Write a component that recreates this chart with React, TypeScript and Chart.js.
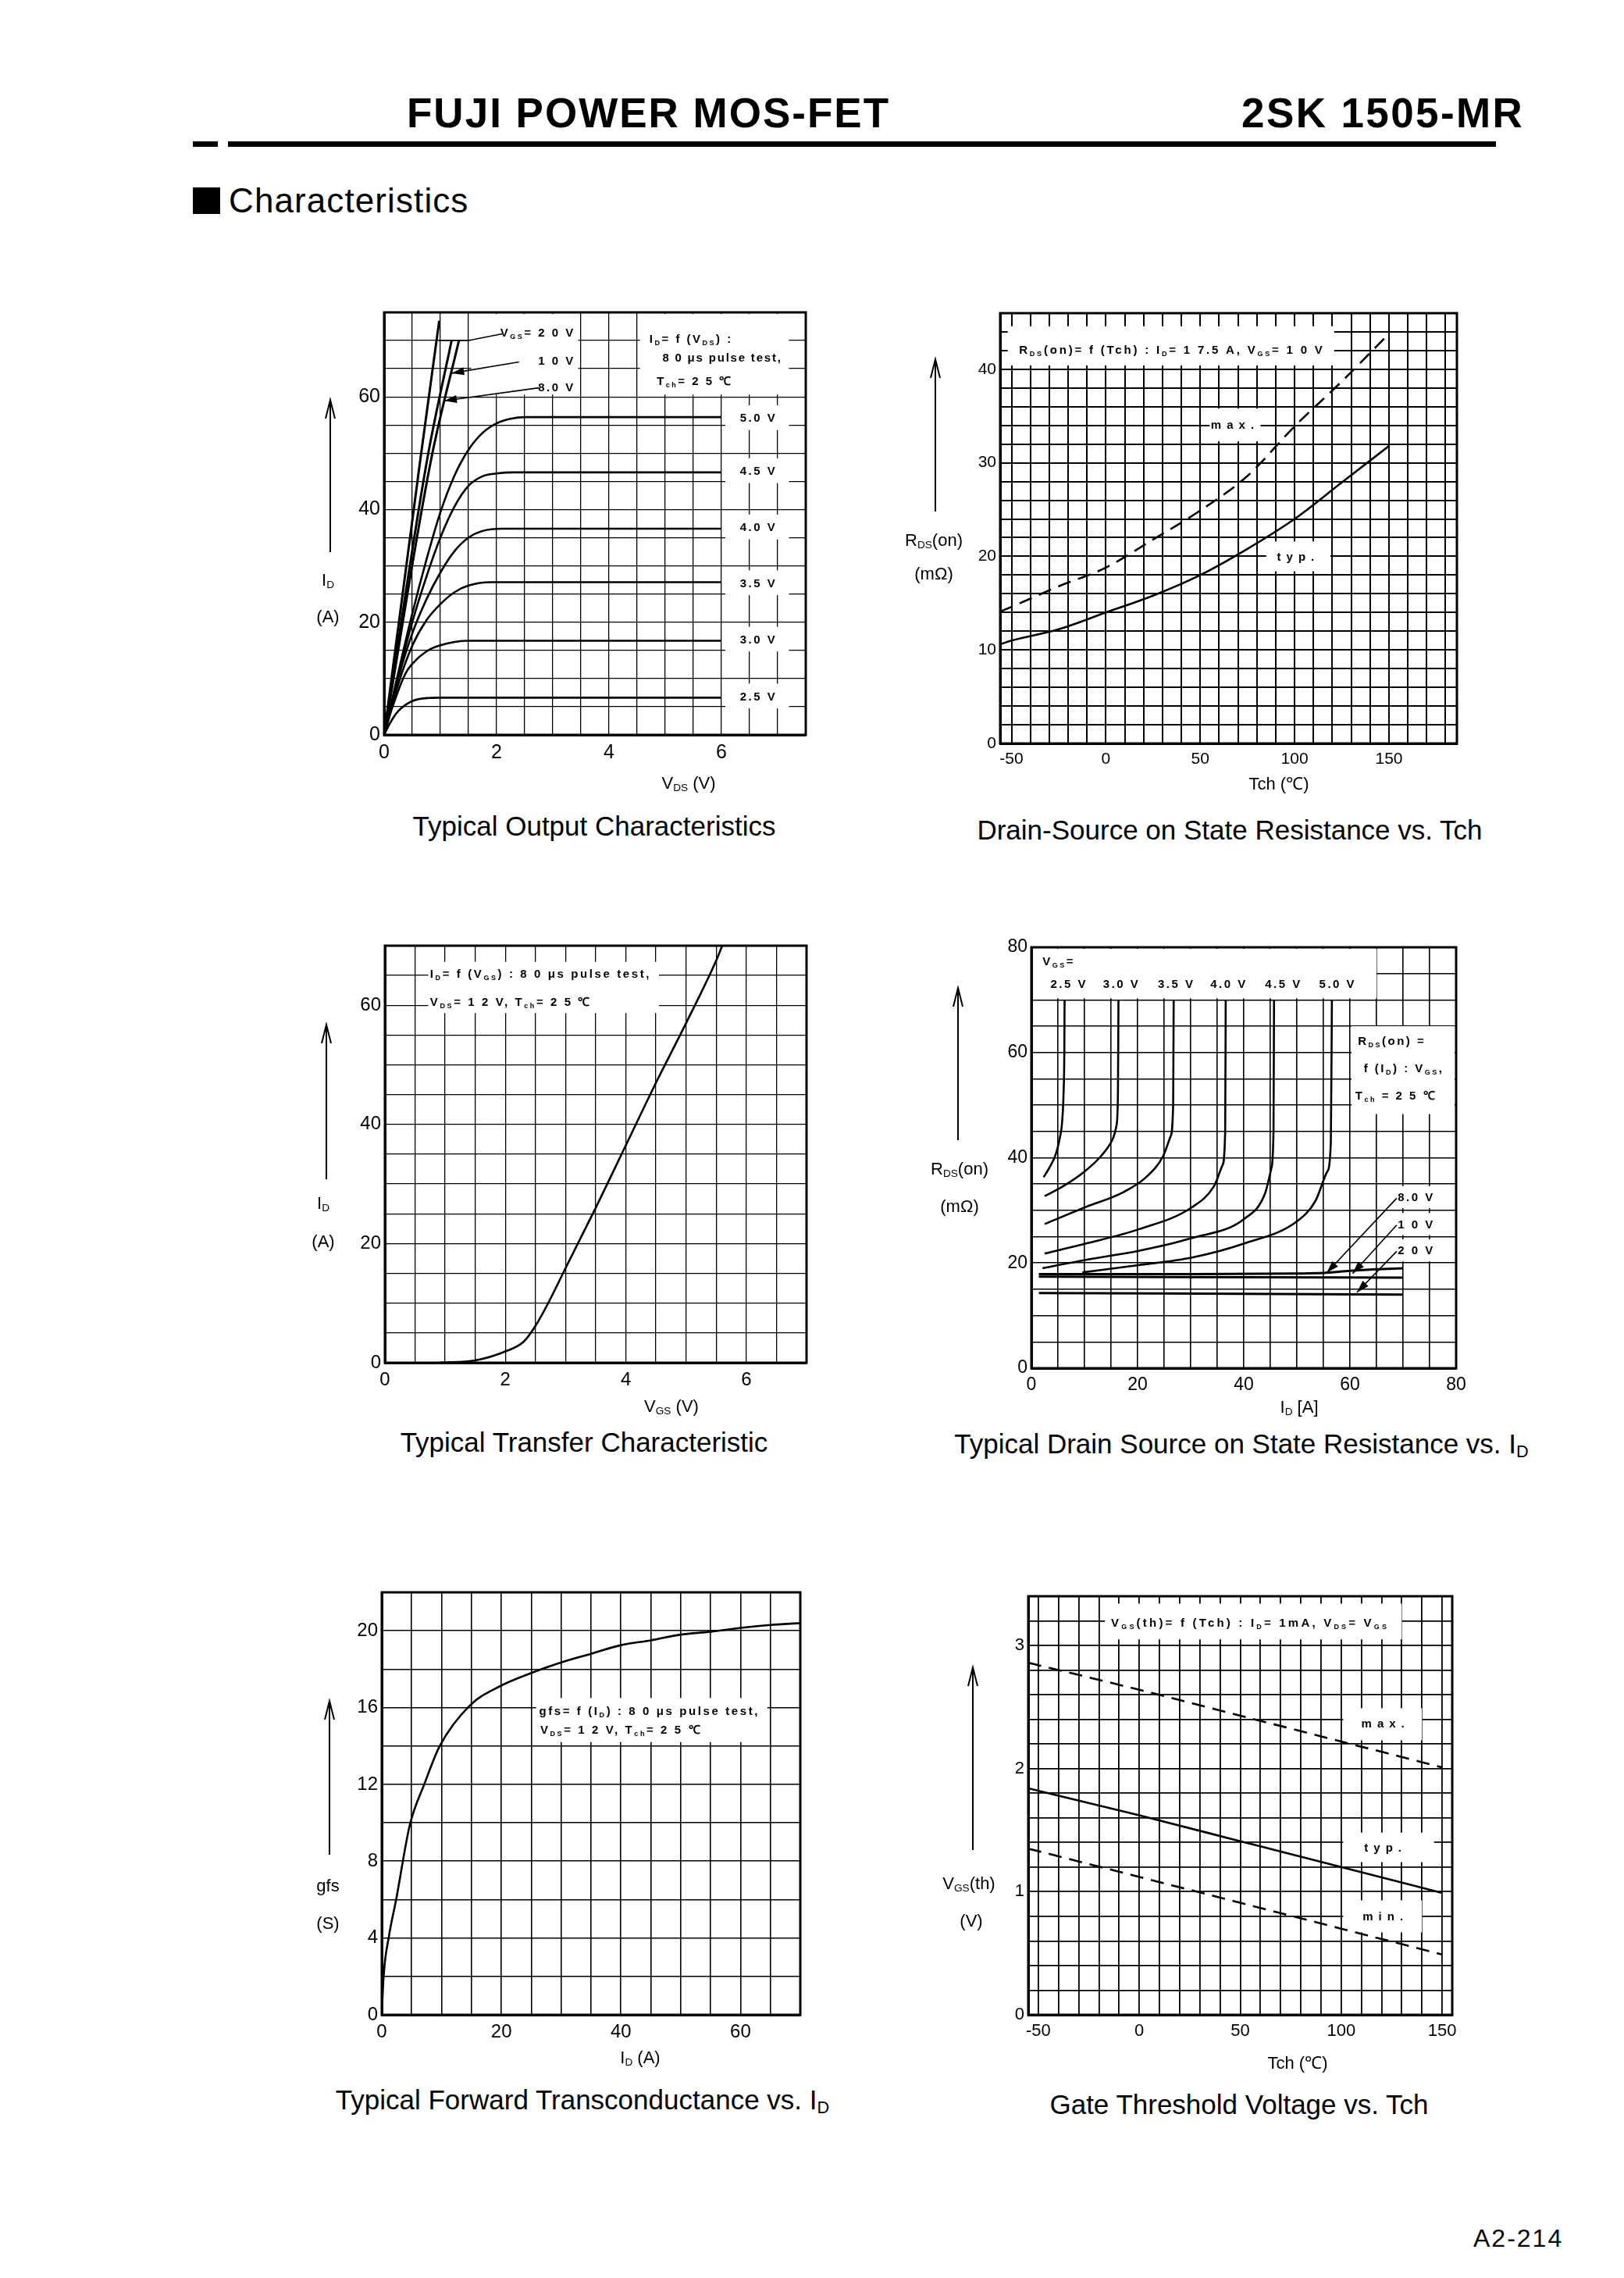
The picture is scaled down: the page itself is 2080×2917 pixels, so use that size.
import React, { useEffect, useRef } from 'react';
import { Chart, registerables } from 'chart.js';

Chart.register(...registerables);

const FONT = '"Liberation Sans", Arial, Helvetica, sans-serif';

/* ---------- Chart 1 : Typical Output Characteristics (ID vs VDS) ---------- */
const outXTickLabels = [0, 2, 4, 6];
const outYTickLabels = [0, 20, 40, 60];
const outVds25 = [0, 0.1, 0.25, 0.5, 0.8, 1.0, 6.0];
const outId25 = [0, 2.0, 4.2, 6.0, 6.55, 6.6, 6.6];
const outVds30 = [0, 0.15, 0.375, 0.5, 0.75, 1.0, 1.5, 6.0];
const outId30 = [0, 5.0, 10.8, 12.6, 14.8, 15.9, 16.7, 16.7];
const outVds35 = [0, 0.25, 0.5, 0.75, 1.0, 1.25, 1.5, 1.9, 6.0];
const outId35 = [0, 9.0, 15.8, 20.3, 23.2, 25.3, 26.5, 27.1, 27.1];
const outVds40 = [0, 0.25, 0.5, 0.75, 1.0, 1.25, 1.5, 1.75, 2.1, 6.0];
const outId40 = [0, 10.0, 18.0, 24.0, 28.8, 32.6, 35.0, 36.2, 36.6, 36.6];
const outVds45 = [0, 0.25, 0.5, 0.75, 1.0, 1.25, 1.5, 1.75, 2.0, 2.3, 6.0];
const outId45 = [0, 10.5, 20.0, 28.0, 35.0, 40.5, 44.2, 45.9, 46.4, 46.6, 46.6];
const outVds50 = [0, 0.25, 0.5, 0.75, 1.0, 1.25, 1.5, 1.75, 2.0, 2.25, 2.5, 6.0];
const outId50 = [0, 11.0, 21.5, 31.0, 39.5, 46.0, 50.6, 53.6, 55.3, 56.1, 56.4, 56.4];
const outVds8 = [0, 0.83, 1.33];
const outId8 = [0, 48.6, 70];
const outVds10 = [0, 0.76, 1.2];
const outId10 = [0, 48.6, 70];
const outVds20 = [0, 0.64, 0.98];
const outId20 = [0, 48.6, 73.5];

/* ---------- Chart 2 : RDS(on) vs Tch ---------- */
const rtXTickLabels = [-50, 0, 50, 100, 150];
const rtYTickLabels = [0, 10, 20, 30, 40];
const rtTch = [-56, -50, -25, 0, 25, 50, 75, 100, 125, 150];
const rtTyp = [10.6, 11.0, 12.2, 14.0, 15.8, 18.0, 20.8, 24.0, 27.9, 31.8];
const rtMax = [14.1, 14.6, 16.8, 18.8, 21.8, 24.9, 28.6, 33.9, 38.7, 43.8];

/* ---------- Chart 3 : Typical Transfer Characteristic ---------- */
const trXTickLabels = [0, 2, 4, 6];
const trYTickLabels = [0, 20, 40, 60];
const trVgs = [0.9, 1.5, 2.0, 2.3, 2.5, 2.7, 3.0, 3.5, 4.0, 4.5, 5.0, 5.5, 5.6];
const trId = [0, 0.4, 1.9, 3.5, 6.2, 9.8, 15.9, 26.0, 36.5, 47.0, 57.0, 67.5, 70];

/* ---------- Chart 4 : RDS(on) vs ID ---------- */
const riXTickLabels = [0, 20, 40, 60, 80];
const riYTickLabels = [0, 20, 40, 60, 80];
const riId25 = [2.3, 3.5, 4.6, 5.3, 5.8, 6.05, 6.2, 6.25];
const riR25 = [36.3, 38.3, 40.7, 43.5, 47, 52, 60, 70];
const riId30 = [2.5, 6.0, 9.9, 13.1, 15.2, 16.0, 16.3, 16.4];
const riR30 = [32.7, 34.6, 37.3, 40.3, 43.3, 46, 52, 70];
const riId35 = [2.5, 9.9, 17.4, 21.6, 24.8, 26.2, 26.7, 26.8];
const riR35 = [27.4, 30.5, 33.5, 36.3, 40.3, 44, 50, 70];
const riId40 = [2.5, 10.3, 20.2, 30.1, 34.4, 36.0, 36.5, 36.6];
const riR40 = [21.8, 23.7, 26.4, 30.5, 34.6, 38.6, 45, 70];
const riId45 = [2.1, 10.3, 20.2, 30.1, 40.1, 44.0, 45.2, 45.6, 45.7];
const riR45 = [19.0, 20.6, 22.3, 24.7, 28.4, 33.2, 38, 45, 70];
const riId50 = [9.6, 20.2, 30.1, 40.1, 50.0, 53.5, 55.7, 56.4, 56.6];
const riR50 = [18.2, 19.6, 21.0, 23.7, 27.9, 31.8, 37.3, 43, 70];
const riId80 = [1.4, 30, 50, 55, 60, 65, 70];
const riR80 = [17.9, 17.9, 18.0, 18.1, 18.5, 18.8, 19.0];
const riId10 = [1.4, 70];
const riR10 = [17.4, 17.2];
const riId20 = [1.4, 70];
const riR20 = [14.3, 14.0];

/* ---------- Chart 5 : gfs vs ID ---------- */
const gfXTickLabels = [0, 20, 40, 60];
const gfYTickLabels = [0, 4, 8, 12, 16, 20];
const gfId = [0, 0.3, 1.2, 2.4, 4.7, 7.1, 9.7, 14.7, 19.7, 25, 30, 35, 40, 45, 50, 55, 60, 65, 70];
const gfGfs = [0, 2.0, 4.1, 6.0, 9.9, 12.0, 14.0, 16.1, 17.1, 17.8, 18.35, 18.8, 19.25, 19.5, 19.8, 19.95, 20.15, 20.3, 20.4];

/* ---------- Chart 6 : VGS(th) vs Tch ---------- */
const thXTickLabels = [-50, 0, 50, 100, 150];
const thYTickLabels = [0, 1, 2, 3];
const thTch = [-55, 0, 50, 100, 150];
const thMax = [2.86, 2.64, 2.43, 2.22, 2.01];
const thTyp = [1.84, 1.62, 1.41, 1.2, 0.99];
const thMin = [1.35, 1.12, 0.91, 0.7, 0.49];

/* ---------- helpers ---------- */
const zip = (xs: number[], ys: number[]) => xs.map((x, i) => ({ x, y: ys[i] }));
const range = (a: number, b: number, s: number) => {
  const r: number[] = [];
  for (let v = a; v <= b + 1e-9; v += s) r.push(Math.round(v * 1000) / 1000);
  return r;
};

function parseRich(s: string) {
  const out: { t: string; sub: boolean }[] = [];
  const re = /_\{([^}]*)\}/g;
  let last = 0;
  let m: any;
  while ((m = re.exec(s)) !== null) {
    if (m.index > last) out.push({ t: s.slice(last, m.index), sub: false });
    out.push({ t: m[1], sub: true });
    last = re.lastIndex;
  }
  if (last < s.length) out.push({ t: s.slice(last), sub: false });
  return out;
}

function drawRich(ctx: any, s: string, x: number, y: number, size: number, align: string, sp: number, bold: boolean) {
  const segs = parseRich(s);
  const fMain = `${bold ? 'bold ' : ''}${size}px ${FONT}`;
  const fSub = `${bold ? 'bold ' : ''}${Math.round(size * 0.62)}px ${FONT}`;
  ctx.save();
  ctx.fillStyle = '#000';
  ctx.textBaseline = 'alphabetic';
  ctx.textAlign = 'left';
  ctx.letterSpacing = sp + 'px';
  const widths = segs.map((g) => {
    ctx.font = g.sub ? fSub : fMain;
    return ctx.measureText(g.t).width;
  });
  const total = widths.reduce((a, b) => a + b, 0);
  let cx = align === 'left' ? x : align === 'right' ? x - total : x - total / 2;
  const base = y + size * 0.36;
  segs.forEach((g, i) => {
    ctx.font = g.sub ? fSub : fMain;
    ctx.fillText(g.t, cx, g.sub ? base + size * 0.2 : base);
    cx += widths[i];
  });
  ctx.restore();
}

type Txt = { x: number; y: number; t: string; align?: string; size?: number; sp?: number };
type Leader = { pts: number[][]; arrow?: boolean };
type Spec = {
  plot: { l: number; t: number; r: number; b: number };
  xMin: number; xMax: number; xGrid: number[]; xLabels: number[];
  yMin: number; yMax: number; yGrid: number[]; yLabels: number[];
  tickSize: number;
  gridWidth: number;
  series: { data: { x: number; y: number }[]; dash?: boolean; width?: number }[];
  boxes: number[][];
  texts: Txt[];
  leaders: Leader[];
  arrow: { x: number; y1: number; y2: number };
};

const ML = 150, MR = 40, MT = 40, MB = 70;

function PlotChart({ spec }: { spec: Spec }) {
  const ref = useRef<HTMLCanvasElement>(null);
  const { l, t, r, b } = spec.plot;
  const W = r - l + ML + MR;
  const H = b - t + MT + MB;
  const ox = l - ML;
  const oy = t - MT;
  useEffect(() => {
    const cv = ref.current as HTMLCanvasElement;
    const plugin = {
      id: 'annot',
      beforeDatasetsDraw(chart: any) {
        const ctx = chart.ctx;
        const xs = chart.scales.x, ys = chart.scales.y;
        ctx.save();
        ctx.fillStyle = '#fff';
        for (const [x1, y1, x2, y2] of spec.boxes) {
          const a = xs.getPixelForValue(x1), c = xs.getPixelForValue(x2);
          const bb = ys.getPixelForValue(y1), d = ys.getPixelForValue(y2);
          ctx.fillRect(Math.min(a, c), Math.min(bb, d), Math.abs(c - a), Math.abs(d - bb));
        }
        ctx.restore();
      },
      afterDatasetsDraw(chart: any) {
        const ctx = chart.ctx;
        const xs = chart.scales.x, ys = chart.scales.y;
        ctx.save();
        ctx.strokeStyle = '#000';
        ctx.fillStyle = '#000';
        ctx.lineWidth = 1.6;
        for (const ld of spec.leaders) {
          const p = ld.pts.map(([x, y]) => [xs.getPixelForValue(x), ys.getPixelForValue(y)]);
          ctx.beginPath();
          ctx.moveTo(p[0][0], p[0][1]);
          for (let i = 1; i < p.length; i++) ctx.lineTo(p[i][0], p[i][1]);
          ctx.stroke();
          if (ld.arrow) {
            const [x2, y2] = p[p.length - 1];
            const [x1, y1] = p[p.length - 2];
            const ang = Math.atan2(y2 - y1, x2 - x1);
            const L = 16, Wd = 5;
            ctx.beginPath();
            ctx.moveTo(x2, y2);
            ctx.lineTo(x2 - L * Math.cos(ang) + Wd * Math.sin(ang), y2 - L * Math.sin(ang) - Wd * Math.cos(ang));
            ctx.lineTo(x2 - L * Math.cos(ang) - Wd * Math.sin(ang), y2 - L * Math.sin(ang) + Wd * Math.cos(ang));
            ctx.closePath();
            ctx.fill();
          }
        }
        ctx.restore();
        for (const tx of spec.texts) {
          drawRich(ctx, tx.t, xs.getPixelForValue(tx.x), ys.getPixelForValue(tx.y), tx.size ?? 15,
            tx.align ?? 'center', tx.sp ?? 2.5, true);
        }
        const ca = chart.chartArea;
        ctx.save();
        ctx.strokeStyle = '#000';
        ctx.lineWidth = 3;
        ctx.strokeRect(ca.left, ca.top, ca.right - ca.left, ca.bottom - ca.top);
        ctx.restore();
      },
      afterDraw(chart: any) {
        const ctx = chart.ctx;
        const ax = spec.arrow.x - ox, a1 = spec.arrow.y1 - oy, a2 = spec.arrow.y2 - oy;
        ctx.save();
        ctx.strokeStyle = '#000';
        ctx.lineWidth = 2;
        ctx.beginPath();
        ctx.moveTo(ax, a2);
        ctx.lineTo(ax, a1);
        ctx.moveTo(ax - 6, a1 + 24);
        ctx.lineTo(ax, a1);
        ctx.lineTo(ax + 6, a1 + 24);
        ctx.stroke();
        ctx.restore();
      },
    };
    const tickFont = { family: FONT, size: spec.tickSize };
    const chart = new Chart(cv, {
      type: 'line',
      data: {
        datasets: spec.series.map((s) => ({
          data: s.data,
          borderColor: '#000',
          borderWidth: s.width ?? 2.6,
          borderDash: s.dash ? [17, 10] : [],
          pointRadius: 0,
          fill: false,
          cubicInterpolationMode: 'monotone',
        })),
      },
      options: {
        animation: false,
        responsive: false,
        maintainAspectRatio: false,
        devicePixelRatio: 1,
        events: [],
        layout: { padding: { top: MT, right: MR, left: 0, bottom: 0 } },
        plugins: { legend: { display: false }, tooltip: { enabled: false } },
        scales: {
          x: {
            type: 'linear',
            min: spec.xMin,
            max: spec.xMax,
            afterBuildTicks: (s: any) => { s.ticks = spec.xGrid.map((v) => ({ value: v })); },
            afterFit: (s: any) => { s.height = MB; },
            ticks: {
              autoSkip: false, maxRotation: 0, padding: 8, color: '#000', font: tickFont,
              callback: (v: any) => (spec.xLabels.includes(v) ? String(v) : ''),
            },
            grid: { color: '#000', lineWidth: spec.gridWidth, drawTicks: false },
            border: { display: true, color: '#000', width: 3 },
          },
          y: {
            type: 'linear',
            min: spec.yMin,
            max: spec.yMax,
            afterBuildTicks: (s: any) => { s.ticks = spec.yGrid.map((v) => ({ value: v })); },
            afterFit: (s: any) => { s.width = ML; },
            ticks: {
              autoSkip: false, padding: 5, color: '#000', font: tickFont,
              callback: (v: any) => (spec.yLabels.includes(v) ? String(v) : ''),
            },
            grid: { color: '#000', lineWidth: spec.gridWidth, drawTicks: false },
            border: { display: true, color: '#000', width: 3 },
          },
        },
      },
      plugins: [plugin],
    } as any);
    return () => chart.destroy();
  }, [spec]);
  return (
    <canvas ref={ref} width={W} height={H}
      style={{ position: 'absolute', left: ox, top: oy, width: W, height: H }} />
  );
}

/* ---------- chart specs ---------- */
const spec1: Spec = {
  plot: { l: 492, t: 400, r: 1032, b: 941 },
  xMin: 0, xMax: 7.5, xGrid: range(0, 7.5, 0.5), xLabels: outXTickLabels,
  yMin: 0, yMax: 75, yGrid: range(0, 75, 5), yLabels: outYTickLabels,
  tickSize: 25, gridWidth: 1.3,
  series: [
    { data: zip(outVds25, outId25) }, { data: zip(outVds30, outId30) }, { data: zip(outVds35, outId35) },
    { data: zip(outVds40, outId40) }, { data: zip(outVds45, outId45) }, { data: zip(outVds50, outId50) },
    { data: zip(outVds8, outId8), width: 3 }, { data: zip(outVds10, outId10), width: 3 }, { data: zip(outVds20, outId20), width: 3 },
  ],
  boxes: [
    [1.55, 60.4, 3.45, 74.7], [4.55, 60.4, 7.2, 74.7],
    [6.07, 54.1, 7.2, 58.5], [6.07, 44.7, 7.2, 49.1], [6.07, 34.7, 7.2, 39.1],
    [6.07, 24.8, 7.2, 29.2], [6.07, 14.8, 7.2, 19.2], [6.07, 4.7, 7.2, 9.1],
  ],
  texts: [
    { x: 3.4, y: 71.4, t: 'V_{GS}= 2 0 V', align: 'right' },
    { x: 3.4, y: 66.5, t: '1 0 V', align: 'right' },
    { x: 3.4, y: 61.7, t: '8.0 V', align: 'right' },
    { x: 4.72, y: 70.4, t: 'I_{D}= f (V_{DS}) :', align: 'left' },
    { x: 4.95, y: 67.0, t: '8 0 μs pulse test,', align: 'left', sp: 1.8 },
    { x: 4.85, y: 62.9, t: 'T_{ch}= 2 5 ℃', align: 'left' },
    { x: 6.66, y: 56.3, t: '5.0 V' }, { x: 6.66, y: 46.9, t: '4.5 V' }, { x: 6.66, y: 36.9, t: '4.0 V' },
    { x: 6.66, y: 27.0, t: '3.5 V' }, { x: 6.66, y: 17.0, t: '3.0 V' }, { x: 6.66, y: 6.9, t: '2.5 V' },
  ],
  leaders: [
    { pts: [[2.1, 71.2], [1.5, 70], [0.97, 70]] },
    { pts: [[2.4, 66.2], [1.2, 64.2]], arrow: true },
    { pts: [[2.75, 61.6], [1.07, 59.3]], arrow: true },
  ],
  arrow: { x: 423, y1: 512, y2: 707 },
};

const spec2: Spec = {
  plot: { l: 1281, t: 401, r: 1866, b: 952 },
  xMin: -56, xMax: 186, xGrid: range(-50, 180, 10), xLabels: rtXTickLabels,
  yMin: 0, yMax: 46, yGrid: range(0, 46, 2), yLabels: rtYTickLabels,
  tickSize: 21, gridWidth: 2,
  series: [{ data: zip(rtTch, rtTyp) }, { data: zip(rtTch, rtMax), dash: true }],
  boxes: [[-52, 40.4, 121, 44.6], [55, 32.3, 82, 35.8], [85, 18.4, 119, 21.6]],
  texts: [
    { x: -46, y: 42.1, t: 'R_{DS}(on)= f (Tch) : I_{D}= 1 7.5 A, V_{GS}= 1 0 V', align: 'left', sp: 2.8 },
    { x: 68.5, y: 34.1, t: 'max.', sp: 7 },
    { x: 102, y: 20, t: 'typ.', sp: 7 },
  ],
  leaders: [],
  arrow: { x: 1198, y1: 460, y2: 655 },
};

const spec3: Spec = {
  plot: { l: 493, t: 1211, r: 1033, b: 1745 },
  xMin: 0, xMax: 7, xGrid: range(0, 7, 0.5), xLabels: trXTickLabels,
  yMin: 0, yMax: 70, yGrid: range(0, 70, 5), yLabels: trYTickLabels,
  tickSize: 24, gridWidth: 1.3,
  series: [{ data: zip(trVgs, trId) }],
  boxes: [[0.72, 58.7, 4.55, 67.3]],
  texts: [
    { x: 0.75, y: 65.3, t: 'I_{D}= f (V_{GS}) : 8 0 μs pulse test,', align: 'left', sp: 2.6 },
    { x: 0.75, y: 60.6, t: 'V_{DS}= 1 2 V, T_{ch}= 2 5 ℃', align: 'left', sp: 2.6 },
  ],
  leaders: [],
  arrow: { x: 418, y1: 1312, y2: 1510 },
};

const spec4: Spec = {
  plot: { l: 1321, t: 1213, r: 1865, b: 1752 },
  xMin: 0, xMax: 80, xGrid: range(0, 80, 5), xLabels: riXTickLabels,
  yMin: 0, yMax: 80, yGrid: range(0, 80, 5), yLabels: riYTickLabels,
  tickSize: 23, gridWidth: 1.6,
  series: [
    { data: zip(riId25, riR25) }, { data: zip(riId30, riR30) }, { data: zip(riId35, riR35) },
    { data: zip(riId40, riR40) }, { data: zip(riId45, riR45) }, { data: zip(riId50, riR50) },
    { data: zip(riId80, riR80), width: 3 }, { data: zip(riId10, riR10), width: 3 }, { data: zip(riId20, riR20), width: 3 },
  ],
  boxes: [
    [0.3, 70.3, 65, 79.7], [60.3, 48.3, 79.7, 65],
    [68.3, 30.4, 76.5, 34.6], [68.3, 25.3, 76.5, 29.5], [68.3, 20.3, 76.5, 24.5],
  ],
  texts: [
    { x: 2.1, y: 77.4, t: 'V_{GS}=', align: 'left' },
    { x: 7.1, y: 73.1, t: '2.5 V' }, { x: 17.0, y: 73.1, t: '3.0 V' }, { x: 27.3, y: 73.1, t: '3.5 V' },
    { x: 37.2, y: 73.1, t: '4.0 V' }, { x: 47.5, y: 73.1, t: '4.5 V' }, { x: 57.7, y: 73.1, t: '5.0 V' },
    { x: 61.5, y: 62.3, t: 'R_{DS}(on) =', align: 'left' },
    { x: 62.6, y: 57.0, t: 'f (I_{D}) : V_{GS},', align: 'left' },
    { x: 61.0, y: 51.9, t: 'T_{ch} = 2 5 ℃', align: 'left' },
    { x: 69, y: 32.5, t: '8.0 V', align: 'left' },
    { x: 69, y: 27.4, t: '1 0 V', align: 'left' },
    { x: 69, y: 22.4, t: '2 0 V', align: 'left' },
  ],
  leaders: [
    { pts: [[68.8, 32.3], [55.6, 18.1]], arrow: true },
    { pts: [[68.8, 27.2], [60.5, 18.0]], arrow: true },
    { pts: [[68.8, 22.2], [61.3, 14.4]], arrow: true },
  ],
  arrow: { x: 1227, y1: 1265, y2: 1460 },
};

const spec5: Spec = {
  plot: { l: 489, t: 2039, r: 1025, b: 2580 },
  xMin: 0, xMax: 70, xGrid: range(0, 70, 5), xLabels: gfXTickLabels,
  yMin: 0, yMax: 22, yGrid: range(0, 22, 2), yLabels: gfYTickLabels,
  tickSize: 24, gridWidth: 1.6,
  series: [{ data: zip(gfId, gfGfs) }],
  boxes: [[25.8, 14.2, 64.5, 16.5]],
  texts: [
    { x: 26.3, y: 15.85, t: 'gfs= f (I_{D}) : 8 0 μs pulse test,', align: 'left', sp: 2.6 },
    { x: 26.5, y: 14.85, t: 'V_{DS}= 1 2 V, T_{ch}= 2 5 ℃', align: 'left', sp: 2.6 },
  ],
  leaders: [],
  arrow: { x: 422, y1: 2178, y2: 2375 },
};

const spec6: Spec = {
  plot: { l: 1317, t: 2044, r: 1860, b: 2580 },
  xMin: -55, xMax: 155, xGrid: range(-50, 150, 10), xLabels: thXTickLabels,
  yMin: 0, yMax: 3.4, yGrid: range(0, 3.4, 0.2), yLabels: thYTickLabels,
  tickSize: 22, gridWidth: 1.8,
  series: [
    { data: zip(thTch, thMax), dash: true },
    { data: zip(thTch, thTyp) },
    { data: zip(thTch, thMin), dash: true },
  ],
  boxes: [[-17, 3.05, 130, 3.34], [101, 2.23, 140, 2.49], [101, 1.24, 146, 1.48], [101, 0.67, 140, 0.93]],
  texts: [
    { x: -14, y: 3.185, t: 'V_{GS}(th)= f (Tch) : I_{D}= 1mA, V_{DS}= V_{GS}', align: 'left', sp: 3.2 },
    { x: 122, y: 2.37, t: 'max.', sp: 7 },
    { x: 122, y: 1.36, t: 'typ.', sp: 7 },
    { x: 122, y: 0.8, t: 'min.', sp: 7 },
  ],
  leaders: [],
  arrow: { x: 1246, y1: 2135, y2: 2369 },
};

/* ---------- HTML text helpers ---------- */
function T({ x, y, size, children, anchor = 'c', bold = false, sp = 0 }: any) {
  const tx = anchor === 'l' ? '0' : anchor === 'r' ? '-100%' : '-50%';
  return (
    <div style={{
      position: 'absolute', left: x, top: y, transform: `translate(${tx},-50%)`,
      fontSize: size, fontWeight: bold ? 700 : 400, letterSpacing: sp, whiteSpace: 'nowrap',
      lineHeight: 1, fontFamily: FONT, color: '#000',
    }}>{children}</div>
  );
}
const S = ({ children }: any) => (
  <span style={{ fontSize: '62%', position: 'relative', top: '0.25em' }}>{children}</span>
);

export default function App() {
  return (
    <div style={{ position: 'absolute', left: 0, top: 0, width: 2080, height: 2917, background: '#fff', overflow: 'hidden', fontFamily: FONT }}>
      {/* header */}
      <T x={521} y={144} size={53} bold anchor="l" sp={2}>FUJI POWER MOS-FET</T>
      <T x={1590} y={144} size={53} bold anchor="l" sp={2.4}>2SK 1505-MR</T>
      <div style={{ position: 'absolute', left: 247, top: 181, width: 32, height: 7, background: '#000' }} />
      <div style={{ position: 'absolute', left: 292, top: 181, width: 1624, height: 7, background: '#000' }} />
      <div style={{ position: 'absolute', left: 247, top: 240, width: 35, height: 34, background: '#000' }} />
      <T x={293} y={257} size={44} anchor="l" sp={1.1}>Characteristics</T>

      <PlotChart spec={spec1} />
      <PlotChart spec={spec2} />
      <PlotChart spec={spec3} />
      <PlotChart spec={spec4} />
      <PlotChart spec={spec5} />
      <PlotChart spec={spec6} />

      {/* chart 1 titles */}
      <T x={420} y={743} size={22}>I<S>D</S></T>
      <T x={420} y={790} size={22}>(A)</T>
      <T x={882} y={1003} size={22}>V<S>DS</S> (V)</T>
      <T x={761} y={1057} size={35}>Typical Output Characteristics</T>

      {/* chart 2 titles */}
      <T x={1196} y={692} size={22}>R<S>DS</S>(on)</T>
      <T x={1196} y={735} size={22}>(mΩ)</T>
      <T x={1638} y={1004} size={22}>Tch (℃)</T>
      <T x={1575} y={1062} size={35}>Drain-Source on State Resistance vs. Tch</T>

      {/* chart 3 titles */}
      <T x={414} y={1541} size={22}>I<S>D</S></T>
      <T x={414} y={1590} size={22}>(A)</T>
      <T x={860} y={1801} size={22}>V<S>GS</S> (V)</T>
      <T x={748} y={1846} size={35}>Typical Transfer Characteristic</T>

      {/* chart 4 titles */}
      <T x={1229} y={1497} size={22}>R<S>DS</S>(on)</T>
      <T x={1229} y={1545} size={22}>(mΩ)</T>
      <T x={1664} y={1802} size={22}>I<S>D</S> [A]</T>
      <T x={1590} y={1848} size={35}>Typical Drain Source on State Resistance vs. I<S>D</S></T>

      {/* chart 5 titles */}
      <T x={420} y={2415} size={22}>gfs</T>
      <T x={420} y={2463} size={22}>(S)</T>
      <T x={820} y={2635} size={22}>I<S>D</S> (A)</T>
      <T x={746} y={2688} size={35}>Typical Forward Transconductance vs. I<S>D</S></T>

      {/* chart 6 titles */}
      <T x={1241} y={2412} size={22}>V<S>GS</S>(th)</T>
      <T x={1244} y={2460} size={22}>(V)</T>
      <T x={1662} y={2642} size={22}>Tch (℃)</T>
      <T x={1587} y={2694} size={35}>Gate Threshold Voltage vs. Tch</T>

      <T x={1887} y={2866} size={32} anchor="l" sp={2}>A2-214</T>
    </div>
  );
}
